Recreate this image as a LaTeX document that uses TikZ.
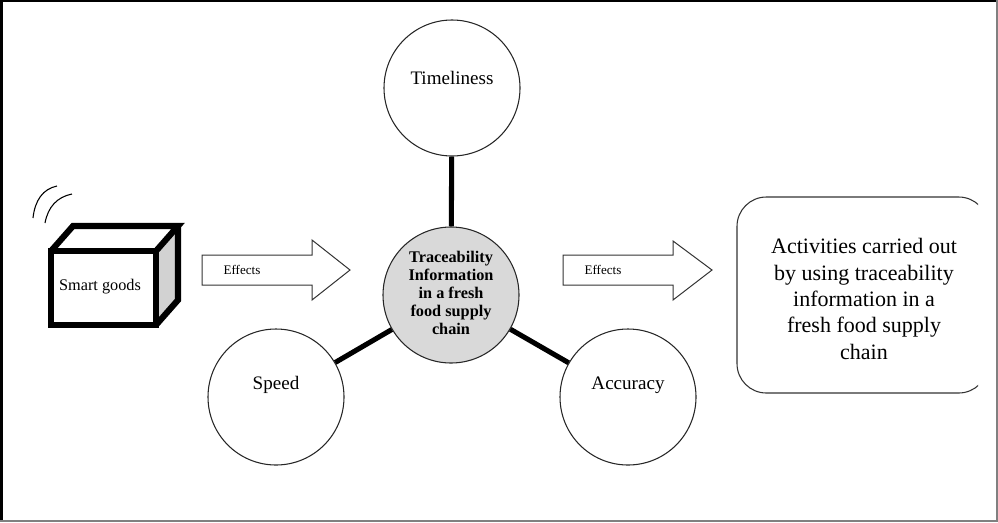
\documentclass[tikz,border=0pt]{standalone}
\usepackage{fontspec}
\setmainfont{Liberation Serif}
\begin{document}
\begin{tikzpicture}[x=0.75pt,y=-0.75pt,
  ring/.style={circle,draw=black!85,line width=0.8pt,minimum size=102pt,inner sep=0pt},
  hubring/.style={ring,fill=gray!30},
  link/.style={line width=3.8pt},
  lbl/.style={font=\fontsize{14.3pt}{17pt}\selectfont,inner sep=0pt},
  eff/.style={font=\fontsize{9.8pt}{11pt}\selectfont,inner sep=0pt},
  blockarrow/.style={draw=black!80,line width=0.75pt,fill=white},
  cubeline/.style={line width=4.6pt,line join=miter}]
\useasboundingbox (0,0) rectangle (998,522);
% frame
\draw[line width=2.2pt] (1.5,0) -- (1.5,522);
\draw[line width=1.5pt] (0,1) -- (998,1);
\draw[gray,line width=1.5pt] (996.5,0) -- (996.5,522);
\draw[gray,line width=1.5pt] (0,520.5) -- (998,520.5);
% circles
\node[ring] (tim) at (452,88) {};
\node[hubring] (hub) at (451,295) {};
\node[ring] (spd) at (276,397) {};
\node[ring] (acc) at (628,397) {};
\draw[link] (tim) -- (hub);
\draw[link] (spd) -- (hub);
\draw[link] (acc) -- (hub);
\node[lbl] (timt) at (452,78) {Timeliness};
\node[lbl] (spdt) at (276,385) {Speed};
\node[lbl] (acct) at (628,385) {Accuracy};
\node[align=center,font=\bfseries\fontsize{12.2pt}{13.4pt}\selectfont,inner sep=0pt] (hubt) at (451,293)
  {Traceability\\Information\\in a fresh\\food supply\\chain};
% cube
\fill[gray!35] (156,251) -- (178,226) -- (178,300) -- (156,325) -- cycle;
\draw[cubeline] (51,251) rectangle (156,325);
\draw[cubeline] (51,251) -- (73,226) -- (178,226) -- (156,251);
\draw[cubeline] (178,226) -- (178,300) -- (156,325);
\node[font=\fontsize{12.2pt}{14pt}\selectfont,inner sep=0pt] (sg) at (100,287) {Smart goods};
% waves
\draw[line width=0.8pt] (33,218) .. controls (35,200) and (43,189) .. (57,186);
\draw[line width=0.8pt] (45,223) .. controls (48,207) and (57,197) .. (72,194);
% block arrows
\draw[blockarrow] (202,255) -- (312,255) -- (312,240) -- (350,270) -- (312,300) -- (312,285) -- (202,285) -- cycle;
\node[eff] (e1) at (242,270) {Effects};
\draw[blockarrow] (563,255) -- (673,255) -- (673,241) -- (712,270) -- (673,300) -- (673,285) -- (563,285) -- cycle;
\node[eff] (e2) at (603,270) {Effects};
% rounded box (clipped on the right)
\begin{scope}
\clip (0,0) rectangle (978,522);
\draw[black!80,line width=0.8pt,rounded corners=22pt] (737,197) rectangle (988,393);
\end{scope}
\node[align=center,font=\fontsize{16.5pt}{19.8pt}\selectfont,inner sep=0pt] (act) at (864,299)
  {Activities carried out\\by using traceability\\information in a\\fresh food supply\\chain};
\end{tikzpicture}
\end{document}
